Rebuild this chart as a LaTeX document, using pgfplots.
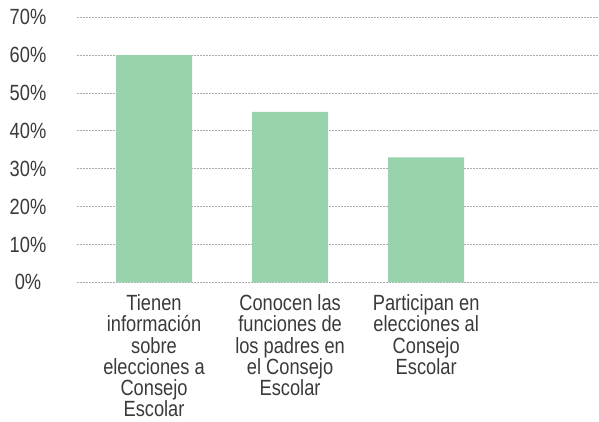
\documentclass[border=0pt]{standalone}
\usepackage{fontspec}
\setmainfont[FakeStretch=0.83]{Liberation Sans}
\usepackage{pgfplots}
\pgfplotsset{compat=1.18}
\definecolor{barcol}{HTML}{99D3AE}
\definecolor{txt}{HTML}{3A3A3A}
\definecolor{gridc}{HTML}{ABABAB}
\begin{document}
\begin{tikzpicture}
\begin{axis}[
    name=ax,
    scale only axis,
    width=522bp, height=265bp,
    xmin=-0.566, xmax=3.27,
    ymin=0, ymax=70,
    ytick={0,10,...,70},
    yticklabel={\pgfmathprintnumber{\tick}\%},
    xtick={0,1,2},
    xticklabels={{Tienen\\información\\sobre\\elecciones a\\Consejo\\Escolar},
                 {Conocen las\\funciones de\\los padres en\\el Consejo\\Escolar},
                 {Participan en\\elecciones al\\Consejo\\Escolar}},
    axis line style={draw=none},
    major tick length=0pt,
    ymajorgrids,
    grid style={gridc, dash pattern=on 2bp off 1bp, line width=0.75bp},
    ybar, bar width=76bp,
    tick label style={font=\fontsize{22bp}{21.2bp}\selectfont, text=txt},
    /pgf/number format/assume math mode=true,
    yticklabel style={anchor=center, xshift=-49bp},
    xticklabel style={align=center, anchor=north, yshift=-9bp},
]
\addplot[fill=barcol, draw=none] coordinates {(0,60) (1,45) (2,33)};
\end{axis}
\pgfresetboundingbox
\path (ax.south west) ++(-77bp,-139.7bp) rectangle ++(599bp,422bp);
\end{tikzpicture}
\end{document}
